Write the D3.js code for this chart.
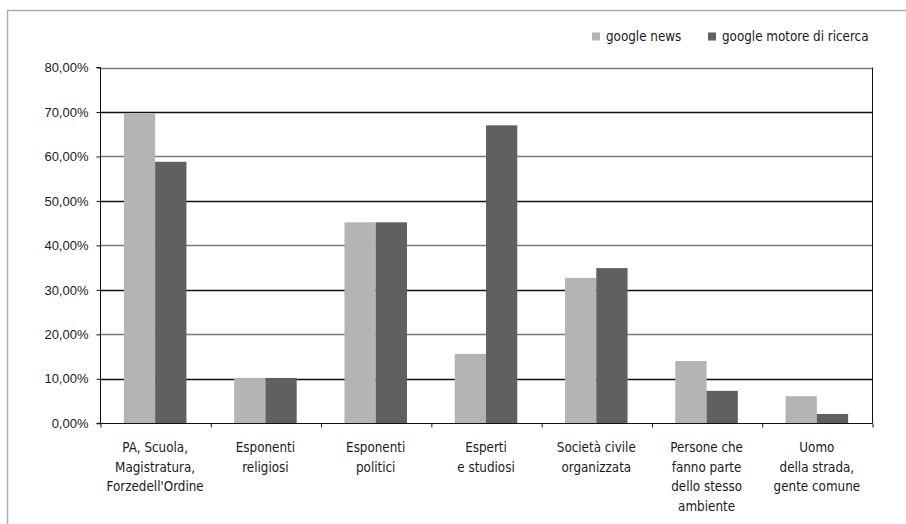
<!DOCTYPE html>
<html><head><meta charset="utf-8">
<script src="https://cdn.jsdelivr.net/npm/d3@7"></script>
<style>body{margin:0;background:#fff}svg{display:block}</style>
</head><body><svg id="c" width="906" height="524"></svg>
<script>
const categories = [
  ["PA, Scuola,","Magistratura,","Forzedell'Ordine"],
  ["Esponenti","religiosi"],
  ["Esponenti","politici"],
  ["Esperti","e studiosi"],
  ["Società civile","organizzata"],
  ["Persone che","fanno parte","dello stesso","ambiente"],
  ["Uomo","della strada,","gente comune"]
];
const seriesNames = ["google news","google motore di ricerca"];
const googleNews = [69.7, 10.2, 45.2, 15.6, 32.7, 14.0, 6.1];
const googleMotore = [58.8, 10.2, 45.2, 67.0, 34.9, 7.3, 2.1];
const yTicks = [0,10,20,30,40,50,60,70,80];
const colors = ["#b3b4b3","#606060"];

const svg = d3.select("#c");
const m = {l:100, r:872, t:67.5, b:423.3};
const keys = categories.map((c,i)=>i);
const x0 = d3.scaleBand().domain(keys).range([m.l,m.r]).paddingInner(0.433).paddingOuter(0.2165);
const x1 = d3.scaleBand().domain([0,1]).range([0,x0.bandwidth()]);
const y = d3.scaleLinear().domain([0,80]).range([m.b,m.t]);

svg.append("path").attr("d","M7.5,524V10.5H906").attr("fill","none").attr("stroke","#b0b0b0").attr("stroke-width",1.5);

svg.append("g").selectAll("line").data(yTicks.filter(d=>d>0)).join("line")
  .attr("x1",m.l).attr("x2",m.r).attr("y1",d=>Math.round(y(d))+0.5).attr("y2",d=>Math.round(y(d))+0.5)
  .attr("stroke",d=>(d/10)%2===0?"#7a7a7a":"#111").attr("stroke-width",1.3);

const data = keys.map(i=>[googleNews[i],googleMotore[i]]);
svg.append("g").selectAll("g").data(data).join("g")
  .attr("transform",(d,i)=>`translate(${x0(i)},0)`)
  .selectAll("rect").data(d=>d).join("rect")
  .attr("x",(d,j)=>x1(j)).attr("width",x1.bandwidth())
  .attr("y",d=>y(d)).attr("height",d=>y(0)-y(d))
  .attr("fill",(d,j)=>colors[j]);

const yAxis = d3.axisLeft(y).tickValues(yTicks).tickSize(4).tickPadding(8)
  .tickFormat(d=>d3.format(".2f")(d).replace(".",",")+"%");
const ya = svg.append("g").attr("transform",`translate(${m.l+0.5},0)`).call(yAxis);
ya.select(".domain").attr("stroke","#111").attr("d",`M-4,${y(80)}H0V${y(0)}H-4`);
ya.selectAll(".tick line").attr("stroke","#111");
ya.selectAll("text").attr("font-family","Liberation Sans, Arial, sans-serif").attr("font-size",13).attr("fill","#1a1a1a");

svg.append("line").attr("x1",m.r+0.5).attr("x2",m.r+0.5).attr("y1",y(80)).attr("y2",y(0)).attr("stroke","#111");

const xb = d3.scaleLinear().domain([0,7]).range([m.l,m.r]);
const xAxis = d3.axisBottom(xb).tickValues(d3.range(0,8)).tickSize(4).tickFormat("");
const xa = svg.append("g").attr("transform",`translate(0.5,${Math.round(y(0))+0.5})`).call(xAxis);
xa.select(".domain").attr("stroke","#111").attr("d",`M${m.l},0H${m.r}`);
xa.selectAll(".tick line").attr("stroke","#111");

const FONT = "DejaVu Sans Condensed, DejaVu Sans, sans-serif";
const lab = svg.append("g").attr("font-family",FONT)
  .attr("font-size",13.3).attr("fill","#1a1a1a").attr("text-anchor","middle");
categories.forEach((lines,i)=>{
  const cx = x0(i)+x0.bandwidth()/2;
  const t = lab.append("text").attr("x",cx).attr("y",452);
  lines.forEach((ln,k)=>t.append("tspan").attr("x",cx).attr("dy",k?19.5:0).text(ln));
});

const legX = [592,708];
const lg = svg.append("g").attr("font-family",FONT).attr("font-size",13.3).attr("fill","#1a1a1a");
seriesNames.forEach((s,i)=>{
  lg.append("rect").attr("x",legX[i]).attr("y",32.5).attr("width",8).attr("height",8).attr("fill",colors[i]);
  lg.append("text").attr("x",legX[i]+14).attr("y",41).text(s);
});
</script></body></html>
